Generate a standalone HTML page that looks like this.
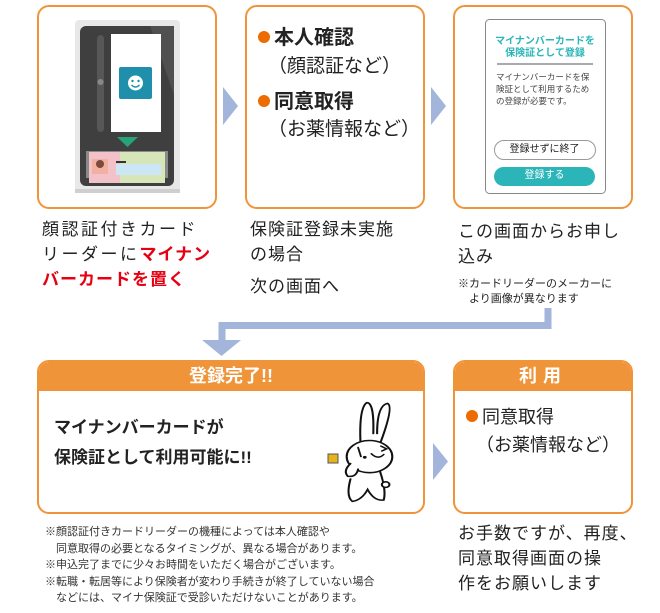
<!DOCTYPE html>
<html><head><meta charset="utf-8"><style>
body{margin:0;width:660px;height:613px;background:#fff;position:relative;overflow:hidden;font-family:"Liberation Sans","Noto Sans CJK JP",sans-serif;color:#222}
.a{position:absolute;white-space:nowrap}
.box{position:absolute;border:2px solid #f0943a;border-radius:12px;box-sizing:border-box;background:transparent}
.dot{display:inline-block;width:12px;height:12px;border-radius:50%;background:#ec6c00;margin-right:4px;vertical-align:1px}
.t17{font-size:17px;line-height:25px;letter-spacing:1px}
</style></head><body>
<div class="box" style="left:37px;top:5px;width:180px;height:204px"></div>
<div class="box" style="left:245px;top:5px;width:180px;height:204px"></div>
<div class="box" style="left:453px;top:5px;width:180px;height:204px"></div>
<div class="box" style="left:37px;top:360px;width:388px;height:154px;overflow:hidden"><div style="background:#f0943a;height:29px;color:#fff;font-weight:bold;font-size:18px;line-height:29px;text-align:center">登録完了!!</div></div>
<div class="box" style="left:453px;top:360px;width:180px;height:154px;overflow:hidden"><div style="background:#f0943a;height:29px;color:#fff;font-weight:bold;font-size:18px;line-height:29px;text-align:center;letter-spacing:6px">利用</div></div>
<svg class="a" style="left:0;top:0" width="660" height="613">
 <polygon points="223,87 238,106 223,125" fill="#a3b5da"/>
 <polygon points="431,87 446,106 431,125" fill="#a3b5da"/>
 <polygon points="433,443 448,461.5 433,480" fill="#a3b5da"/>
 <path d="M548,308 V325.5 H222 V342" fill="none" stroke="#a3b5da" stroke-width="7"/>
 <polygon points="202,340 241,340 221.5,356" fill="#a3b5da"/>
 <!-- device -->
 <rect x="75" y="20" width="105" height="173" rx="4" fill="#e8e8e8"/>
 <rect x="75" y="189" width="105" height="4" fill="#cfcfcf"/>
 <rect x="80" y="26" width="94" height="160" rx="6" fill="#3f3f3f"/>
 <polygon points="150,26 174,26 174,95" fill="#505050"/>
 <rect x="97" y="35" width="7" height="97" rx="3.5" fill="#575757"/>
 <circle cx="100.5" cy="82" r="3" fill="#888"/>
 <rect x="111" y="34" width="50" height="98" fill="#fff"/>
 <rect x="119" y="67" width="33" height="32" rx="2" fill="#1f8fac"/>
 <circle cx="135.5" cy="83" r="7.5" fill="#fff"/>
 <circle cx="132.5" cy="81" r="1.2" fill="#1f8fac"/><circle cx="138.5" cy="81" r="1.2" fill="#1f8fac"/>
 <path d="M131.5,85 Q135.5,89 139.5,85" stroke="#1f8fac" stroke-width="1.4" fill="none"/>
 <polygon points="117,137 138,137 127.5,147" fill="#27a37a"/>
 <rect x="86" y="151" width="82" height="27" fill="#bdbdbd" opacity=".6"/>
 <rect x="89" y="152" width="76" height="31" fill="#f3c2c9"/>
 <rect x="120" y="152" width="45" height="31" fill="#d7e6b8"/>
 <rect x="92" y="159" width="16" height="15" fill="#f3b0a0"/>
 <circle cx="100" cy="164" r="4" fill="#7a4a3a"/>
 <rect x="116" y="164" width="45" height="11" fill="#cde6f5"/>
 <rect x="116" y="161" width="10" height="2" fill="#333"/>
 <!-- phone screen -->
 <rect x="485.5" y="19.5" width="120" height="174" rx="4" fill="#fff" stroke="#888"/>
 <line x1="497" y1="64" x2="593" y2="64" stroke="#555"/>
 <rect x="494.5" y="140.5" width="101" height="19" rx="9.5" fill="#fff" stroke="#999"/>
 <rect x="494" y="167" width="101" height="19" rx="9.5" fill="#2bb5b8"/>
 <!-- rabbit -->
 <g transform="translate(360,402) scale(0.95,0.7) translate(-360,-410)">
 <g fill="#fff" stroke="#111" stroke-width="2.2" stroke-linecap="round">
  <path d="M361,480 Q358,420 367,411 Q375,410 374,455"/>
  <path d="M378,455 Q378,415 389,412 Q396,416 381,470"/>
  <path d="M350,520 Q345,545 352,552 Q362,550 368,535 Q375,552 385,550 Q388,535 380,505"/>
  <ellipse cx="370" cy="488" rx="24" ry="23"/>
  <path d="M350,498 Q342,508 347,516 Q356,518 358,506"/>
  <circle cx="387" cy="528" r="4"/>
 </g>
 <g stroke="#111" stroke-width="2" fill="none" stroke-linecap="round">
  <path d="M358,475 L361,488"/><path d="M372,484 Q379,493 385,485"/><path d="M382,473 L388,477 L383,480"/>
 </g>
 <circle cx="365" cy="489" r="2" fill="#111"/>
 </g>
 <rect x="328" y="454" width="10" height="9" fill="#e8b21e" stroke="#555" stroke-width="1"/>
</svg>
<div class="a" style="left:258px;top:25px;font-size:20px;line-height:26px;font-weight:bold"><span class="dot"></span>本人確認</div>
<div class="a" style="left:268px;top:54px;font-size:19px;line-height:26px">（顔認証など）</div>
<div class="a" style="left:258px;top:89px;font-size:20px;line-height:26px;font-weight:bold"><span class="dot"></span>同意取得</div>
<div class="a" style="left:268px;top:117px;font-size:19px;line-height:26px">（お薬情報など）</div>
<div class="a" style="left:485px;top:36px;width:120px;text-align:center;color:#2bb5b8;font-size:10px;line-height:12px;font-weight:bold">マイナンバーカードを<br>保険証として登録</div>
<div class="a" style="left:496px;top:71px;font-size:8.5px;line-height:12px;color:#444">マイナンバーカードを保<br>険証として利用するため<br>の登録が必要です。</div>
<div class="a" style="left:494px;top:143px;width:101px;text-align:center;font-size:10px;line-height:14px">登録せずに終了</div>
<div class="a" style="left:494px;top:169px;width:101px;text-align:center;font-size:10px;line-height:14px;color:#fff">登録する</div>
<div class="a t17" style="left:42px;top:217px;letter-spacing:2.5px">顔認証付きカード<br>リーダーに<b style="color:#e60012;letter-spacing:1px">マイナン</b><br><b style="color:#e60012;letter-spacing:1px">バーカードを置く</b></div>
<div class="a t17" style="left:250px;top:217px">保険証登録未実施<br>の場合</div>
<div class="a t17" style="left:250px;top:274px">次の画面へ</div>
<div class="a t17" style="left:458px;top:219px">この画面からお申し<br>込み</div>
<div class="a" style="left:458px;top:277px;font-size:11px;line-height:15px">※カードリーダーのメーカーに<br>　より画像が異なります</div>
<div class="a" style="left:54px;top:413px;font-size:17px;line-height:30px;font-weight:bold">マイナンバーカードが<br>保険証として利用可能に!!</div>
<div class="a" style="left:466px;top:404px;font-size:18px;line-height:26px"><span class="dot"></span>同意取得</div>
<div class="a" style="left:476px;top:432px;font-size:18px;line-height:26px">（お薬情報など）</div>
<div class="a" style="left:45px;top:524px;font-size:11px;line-height:16.5px;color:#333">※顔認証付きカードリーダーの機種によっては本人確認や<br>　同意取得の必要となるタイミングが、異なる場合があります。<br>※申込完了までに少々お時間をいただく場合がございます。<br>※転職・転居等により保険者が変わり手続きが終了していない場合<br>　などには、マイナ保険証で受診いただけないことがあります。</div>
<div class="a t17" style="left:458px;top:521px">お手数ですが、再度、<br>同意取得画面の操<br>作をお願いします</div>
</body></html>
